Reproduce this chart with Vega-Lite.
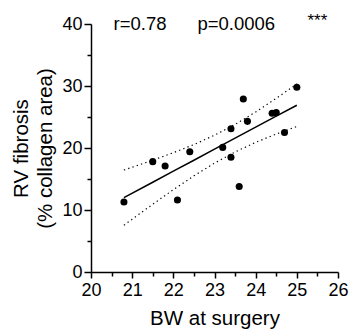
{
  "$schema": "https://vega.github.io/schema/vega-lite/v6.json",
  "width": 247,
  "height": 248,
  "autosize": {"type": "none"},
  "padding": {"left": 91, "top": 24, "right": 12, "bottom": 61},
  "config": {
    "view": {"stroke": null},
    "font": "Liberation Sans",
    "axis": {
      "grid": false,
      "domainColor": "black",
      "tickColor": "black",
      "labelColor": "black",
      "titleColor": "black",
      "domainWidth": 1.5,
      "tickWidth": 1.5,
      "labelFlush": false,
      "labelFont": "Liberation Sans",
      "titleFont": "Liberation Sans",
      "titleFontWeight": "normal"
    }
  },
  "datasets": {
    "pts": [
      {"bw": 20.8, "fib": 11.3},
      {"bw": 21.5, "fib": 17.8},
      {"bw": 21.8, "fib": 17.1},
      {"bw": 22.1, "fib": 11.6},
      {"bw": 22.4, "fib": 19.4},
      {"bw": 23.2, "fib": 20.1},
      {"bw": 23.4, "fib": 23.1},
      {"bw": 23.4, "fib": 18.5},
      {"bw": 23.6, "fib": 13.8},
      {"bw": 23.7, "fib": 27.9},
      {"bw": 23.8, "fib": 24.3},
      {"bw": 24.4, "fib": 25.6},
      {"bw": 24.5, "fib": 25.7},
      {"bw": 24.7, "fib": 22.5},
      {"bw": 25.0, "fib": 29.8}
    ],
    "fit": [
      {"bw": 20.8, "fit": 12.0, "upper": 16.45, "lower": 7.55},
      {"bw": 21.5, "fit": 14.48, "upper": 18.03, "lower": 10.93},
      {"bw": 22.0, "fit": 16.26, "upper": 19.24, "lower": 13.28},
      {"bw": 22.5, "fit": 18.03, "upper": 20.55, "lower": 15.51},
      {"bw": 23.0, "fit": 19.81, "upper": 22.06, "lower": 17.56},
      {"bw": 23.5, "fit": 21.58, "upper": 23.8, "lower": 19.36},
      {"bw": 24.0, "fit": 23.36, "upper": 25.81, "lower": 20.91},
      {"bw": 24.5, "fit": 25.13, "upper": 28.01, "lower": 22.25},
      {"bw": 25.0, "fit": 26.9, "upper": 30.33, "lower": 23.47}
    ],
    "stats": [
      {"r": "r=0.78", "p": "p=0.0006", "sig": "***"}
    ]
  },
  "resolve": {"axis": {"x": "independent", "y": "independent"}},
  "layer": [
    {
      "data": {"name": "fit"},
      "mark": {"type": "line", "color": "black", "strokeWidth": 1.2, "strokeDash": [1.3, 3.2]},
      "encoding": {
        "x": {"field": "bw", "type": "quantitative", "scale": {"domain": [20, 26]},
              "axis": {"orient": "bottom", "values": [20.5, 21.5, 22.5, 23.5, 24.5, 25.5], "labels": false, "domain": false, "tickSize": 4, "title": null}},
        "y": {"field": "upper", "type": "quantitative", "scale": {"domain": [0, 40]},
              "axis": {"orient": "left", "values": [5, 15, 25, 35], "labels": false, "domain": false, "tickSize": 4, "title": null}}
      }
    },
    {
      "data": {"name": "fit"},
      "mark": {"type": "line", "color": "black", "strokeWidth": 1.2, "strokeDash": [1.3, 3.2]},
      "encoding": {
        "x": {"field": "bw", "type": "quantitative", "axis": null},
        "y": {"field": "lower", "type": "quantitative", "axis": null}
      }
    },
    {
      "data": {"name": "fit"},
      "mark": {"type": "line", "color": "black", "strokeWidth": 1.5},
      "encoding": {
        "x": {"field": "bw", "type": "quantitative", "axis": null},
        "y": {"field": "fit", "type": "quantitative", "axis": null}
      }
    },
    {
      "data": {"name": "pts"},
      "mark": {"type": "circle", "color": "black", "opacity": 1, "size": 50},
      "encoding": {
        "x": {"field": "bw", "type": "quantitative",
              "axis": {"orient": "bottom", "values": [20, 21, 22, 23, 24, 25, 26], "tickSize": 6, "labelFontSize": 18, "labelPadding": 3, "title": "BW at surgery", "titleFontSize": 20.5, "titlePadding": 9}},
        "y": {"field": "fib", "type": "quantitative",
              "axis": {"orient": "left", "values": [0, 10, 20, 30, 40], "tickSize": 7, "labelFontSize": 18, "labelPadding": 2, "title": ["RV fibrosis", "(% collagen area)"], "titleFontSize": 20.5, "titleLineHeight": 24, "titlePadding": 6}}
      }
    },
    {
      "data": {"name": "stats"},
      "mark": {"type": "text", "fontSize": 18.5, "baseline": "middle", "align": "center", "color": "black"},
      "encoding": {"x": {"datum": 21.19, "type": "quantitative", "axis": null}, "y": {"datum": 40, "type": "quantitative", "axis": null}, "text": {"field": "r"}}
    },
    {
      "data": {"name": "stats"},
      "mark": {"type": "text", "fontSize": 18.5, "baseline": "middle", "align": "center", "color": "black"},
      "encoding": {"x": {"datum": 23.53, "type": "quantitative", "axis": null}, "y": {"datum": 40, "type": "quantitative", "axis": null}, "text": {"field": "p"}}
    },
    {
      "data": {"name": "stats"},
      "mark": {"type": "text", "fontSize": 17, "baseline": "middle", "align": "center", "color": "black", "dy": -3},
      "encoding": {"x": {"datum": 25.5, "type": "quantitative", "axis": null}, "y": {"datum": 40, "type": "quantitative", "axis": null}, "text": {"field": "sig"}}
    }
  ]
}
